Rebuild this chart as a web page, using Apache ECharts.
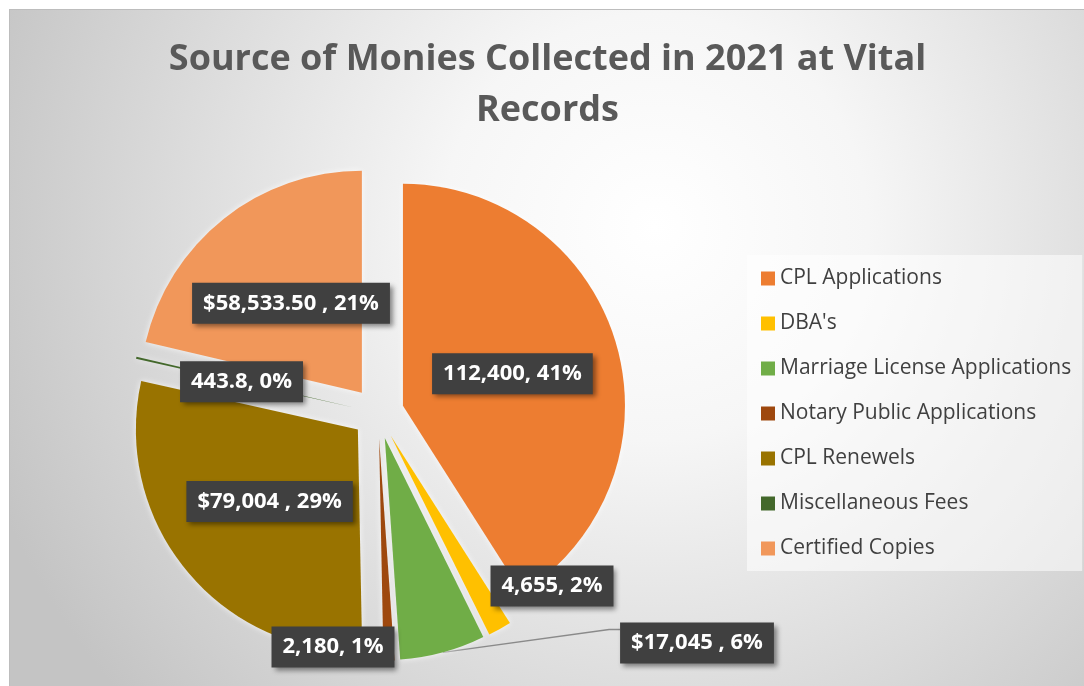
<!DOCTYPE html>
<html>
<head>
<meta charset="utf-8">
<script src="https://cdn.jsdelivr.net/npm/echarts@6/dist/echarts.min.js"></script>
<style>
  html, body { margin: 0; padding: 0; background: #fff; width: 1084px; height: 686px; overflow: hidden; }
  #container { position: absolute; left: 9px; top: 9px; width: 1075px; height: 677px;
               border-left: 1px solid #bdbdbd; border-top: 1px solid #bdbdbd; }
</style>
</head>
<body>
<div id="container"></div>
<script type="text/javascript">
var categories = ['CPL Applications', "DBA's", 'Marriage License Applications',
    'Notary Public Applications', 'CPL Renewels', 'Miscellaneous Fees', 'Certified Copies'];
var values = [112400, 4655, 17045, 2180, 79004, 443.8, 58533.5];
var valueTexts = ['112,400', '4,655', '$17,045 ', '2,180', '$79,004 ', '443.8', '$58,533.50 '];
var colors = ['#ED7D31', '#FFC000', '#70AD47', '#9E480E', '#997300', '#43682B', '#F1975A'];

var pieCenter = [368, 403];
var pieRadius = 222;
var explode = 26;
// labels that were dragged away from their slice: centre of the label box
var movedLabels = { 1: [542, 576], 2: [687, 633], 3: [323, 637] };

var total = values.reduce(function (a, b) { return a + b; }, 0);
function midAngle(i) {
    var before = 0;
    for (var k = 0; k < i; k++) before += values[k];
    return 2 * Math.PI * (before + values[i] / 2) / total;
}

var labelBase = {
    color: '#ffffff',
    fontFamily: 'Open Sans',
    fontWeight: 'bold',
    fontSize: 22,
    lineHeight: 27,
    backgroundColor: '#404040',
    padding: [7, 11, 7, 11],
    shadowColor: 'rgba(0,0,0,0.45)',
    shadowBlur: 5,
    shadowOffsetX: 3,
    shadowOffsetY: 3,
    formatter: function (p) {
        return valueTexts[p.dataIndex] + ', ' + p.percent + '%';
    }
};

var myChart = echarts.init(document.getElementById('container'));

// exploded pie with the labels that sit inside their slice
var mainData = categories.map(function (name, i) {
    return {
        name: name,
        value: values[i],
        selected: true,
        itemStyle: { color: colors[i] },
        select: { itemStyle: { color: colors[i] } },
        label: { show: !movedLabels[i] }
    };
});

// transparent copy that only carries the dragged labels
var labelData = categories.map(function (name, i) {
    return {
        name: name,
        value: values[i],
        itemStyle: { color: 'rgba(0,0,0,0)' },
        label: { show: !!movedLabels[i] },
        labelLine: { show: i === 2 }
    };
});

var option = {
    animation: false,
    backgroundColor: {
        type: 'radial', x: 0.6, y: 0.32, r: 1.05,
        colorStops: [
            { offset: 0, color: '#ffffff' },
            { offset: 0.3, color: '#f6f6f6' },
            { offset: 1, color: '#c4c4c4' }
        ]
    },
    title: {
        text: 'Source of Monies Collected in 2021 at Vital\nRecords',
        left: 'center',
        top: 19,
        padding: [5, 5, 5, 14],
        textStyle: {
            fontFamily: 'Open Sans',
            fontWeight: 'bold',
            fontSize: 36,
            lineHeight: 51,
            color: '#595959'
        }
    },
    legend: {
        orient: 'vertical',
        left: 737,
        top: 245,
        icon: 'rect',
        itemWidth: 14,
        itemHeight: 14,
        itemGap: 24,
        padding: [13, 11, 12, 14],
        backgroundColor: 'rgba(255,255,255,0.55)',
        selectedMode: false,
        textStyle: { fontFamily: 'Open Sans', fontSize: 21, lineHeight: 21, color: '#404040' },
        data: categories
    },
    series: [{
        type: 'pie',
        center: pieCenter,
        radius: pieRadius,
        startAngle: 90,
        clockwise: true,
        selectedMode: 'multiple',
        selectedOffset: explode,
        percentPrecision: 0,
        emphasis: { disabled: true },
        itemStyle: {
            shadowColor: 'rgba(255,255,255,0.8)',
            shadowBlur: 6
        },
        label: echarts.util.extend({ show: true, position: 'inside' }, labelBase),
        data: mainData
    }, {
        type: 'pie',
        silent: true,
        center: pieCenter,
        radius: pieRadius,
        startAngle: 90,
        clockwise: true,
        percentPrecision: 0,
        avoidLabelOverlap: false,
        emphasis: { disabled: true },
        label: echarts.util.extend({ show: true, position: 'outside' }, labelBase),
        labelLine: { show: false, lineStyle: { color: '#8a8a8a', width: 1.4 } },
        labelLayout: function (params) {
            var p = movedLabels[params.dataIndex];
            if (!p) return;
            var res = { x: p[0], y: p[1], align: 'center', verticalAlign: 'middle' };
            if (params.dataIndex === 2) {
                var a = midAngle(2);
                var r = pieRadius + explode;
                var start = [pieCenter[0] + r * Math.sin(a), pieCenter[1] - r * Math.cos(a)];
                var end = [p[0] - params.labelRect.width / 2, p[1] - params.labelRect.height / 2 + 7];
                res.labelLinePoints = [start, [end[0] - 11, end[1]], end];
            }
            return res;
        },
        data: labelData
    }]
};

if (option && typeof option === "object") {
    myChart.setOption(option, true);
}
</script>
</body>
</html>
